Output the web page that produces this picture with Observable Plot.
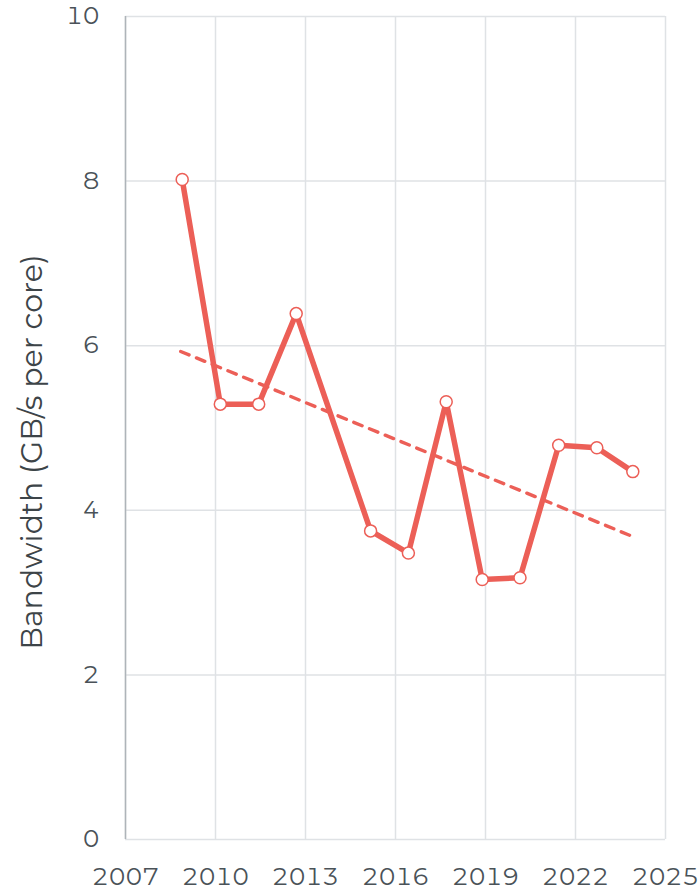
<!DOCTYPE html>
<html><head><meta charset="utf-8">
<script src="https://cdn.jsdelivr.net/npm/d3@7"></script>
<script src="https://cdn.jsdelivr.net/npm/@observablehq/plot@0.6"></script>
<style>
body{margin:0;background:#fff;}
#chart svg{display:block;}
</style>
</head><body><div id="chart"></div>
<script>
const years = [2008.89, 2010.16, 2011.44, 2012.69, 2015.17, 2016.43, 2017.69, 2018.89, 2020.15, 2021.44, 2022.71, 2023.91];
const bandwidth = [8.02, 5.29, 5.29, 6.39, 3.75, 3.48, 5.32, 3.16, 3.18, 4.79, 4.76, 4.47];
const trendYears = [2008.84, 2023.85];
const trendValues = [5.93, 3.69];
const xTicks = [2007, 2010, 2013, 2016, 2019, 2022, 2025];
const yTicks = [0, 2, 4, 6, 8, 10];
const yLabel = "Bandwidth (GB/s per core)";

const data = years.map((x, i) => ({x, y: bandwidth[i]}));
const trend = trendYears.map((x, i) => ({x, y: trendValues[i]}));
const red = "#ec5f57";
const font = "Montserrat, 'DejaVu Sans', sans-serif";

const chart = Plot.plot({
  width: 700,
  height: 892,
  marginLeft: 125,
  marginRight: 35,
  marginTop: 16,
  marginBottom: 53,
  style: {fontFamily: font, fontSize: "24px", color: "#4a5258", background: "#fff"},
  x: {domain: [2007, 2025]},
  y: {domain: [0, 10]},
  marks: [
    Plot.gridX(xTicks, {stroke: "#dfe2e5", strokeOpacity: 1, strokeWidth: 1.5}),
    Plot.gridY(yTicks, {stroke: "#dfe2e5", strokeOpacity: 1, strokeWidth: 1.5}),
    Plot.ruleX([2007], {stroke: "#aeb4b9", strokeWidth: 1.5}),
    Plot.axisX(xTicks, {tickSize: 0, tickPadding: 28, tickFormat: d => String(d), label: null, fill: "#4a5258", fontSize: 24}),
    Plot.axisY(yTicks, {tickSize: 0, tickPadding: 26, tickFormat: d => String(d), label: null, fill: "#4a5258", fontSize: 24}),
    Plot.text([yLabel], {frameAnchor: "left", textAnchor: "middle", rotate: -90, dx: -93, dy: 24, fontSize: 30, fill: "#3d4448", text: d => d}),
    Plot.line(trend, {x: "x", y: "y", stroke: red, strokeWidth: 3.4, strokeDasharray: "9,8"}),
    Plot.line(data, {x: "x", y: "y", stroke: red, strokeWidth: 5.5}),
    Plot.dot(data, {x: "x", y: "y", r: 6, fill: "#fff", stroke: red, strokeWidth: 1.5})
  ]
});
document.getElementById("chart").appendChild(chart);
</script>
</body></html>
